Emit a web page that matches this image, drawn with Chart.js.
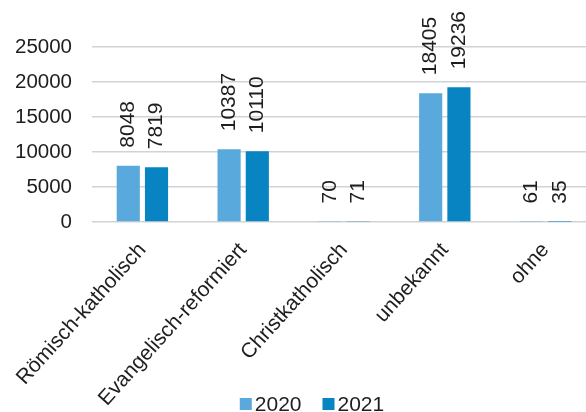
<!DOCTYPE html>
<html>
<head>
<meta charset="utf-8">
<script src="https://cdn.jsdelivr.net/npm/chart.js@4"></script>
<style>
  html, body { margin: 0; padding: 0; background: #fff; overflow: hidden; }
  #chart { display: block; }
</style>
</head>
<body>
<canvas id="chart" width="598" height="412"></canvas>
<script>
const ctx = document.getElementById('chart');

const categories = ['Römisch-katholisch', 'Evangelisch-reformiert', 'Christkatholisch', 'unbekannt', 'ohne'];
const values2020 = [8048, 10387, 70, 18405, 61];
const values2021 = [7819, 10110, 71, 19236, 35];
const yTicks = [0, 5000, 10000, 15000, 20000, 25000];

const FONT = '"Liberation Sans", Arial, sans-serif';

// values written vertically above each bar
const barLabels = {
    id: 'barLabels',
    afterDatasetsDraw(chart) {
        const c = chart.ctx;
        c.save();
        c.font = '21px ' + FONT;
        c.fillStyle = '#1e1e1e';
        c.textAlign = 'left';
        c.textBaseline = 'middle';
        chart.data.datasets.forEach((ds, i) => {
            chart.getDatasetMeta(i).data.forEach((bar, j) => {
                c.save();
                c.translate(bar.x, bar.y - 18);
                c.rotate(-Math.PI / 2);
                c.fillText(String(ds.data[j]), 0, 0);
                c.restore();
            });
        });
        c.restore();
    }
};

// small legend at the bottom, sitting level with the lowest axis label
const bottomLegend = {
    id: 'bottomLegend',
    afterDraw(chart) {
        const c = chart.ctx;
        const box = 12, gap = 3, itemGap = 21;
        c.save();
        c.font = '21px ' + FONT;
        c.textBaseline = 'middle';
        c.textAlign = 'left';
        const items = chart.data.datasets.map(ds => ({ text: ds.label, color: ds.backgroundColor, w: c.measureText(ds.label).width }));
        const total = items.reduce((s, it) => s + box + gap + it.w, 0) + itemGap * (items.length - 1);
        let x = chart.width / 2 + 13 - total / 2;
        const y = 404;
        items.forEach(it => {
            c.fillStyle = it.color;
            c.fillRect(x, y - box / 2, box, box);
            c.fillStyle = '#1e1e1e';
            c.fillText(it.text, x + box + gap, y + 1);
            x += box + gap + it.w + itemGap;
        });
        c.restore();
    }
};

const data = {
    labels: categories,
    datasets: [{
        label: '2020',
        data: values2020,
        backgroundColor: '#5aa9dd'
    }, {
        label: '2021',
        data: values2021,
        backgroundColor: '#0884c2'
    }]
};

const config = {
    type: 'bar',
    data,
    options: {
        responsive: false,
        animation: false,
        datasets: {
            bar: { categoryPercentage: 0.56, barPercentage: 0.82 }
        },
        layout: { padding: { top: 47, right: 2, left: 14, bottom: 0 } },
        plugins: {
            tooltip: { enabled: false },
            legend: { display: false }
        },
        scales: {
            x: {
                grid: { display: false },
                border: { display: false },
                afterFit(axis) { axis.height = 190; },
                ticks: {
                    minRotation: 48,
                    maxRotation: 48,
                    padding: 8,
                    color: '#1e1e1e',
                    font: { size: 21, family: FONT }
                }
            },
            y: {
                min: 0,
                max: 25000,
                afterBuildTicks(axis) {
                    axis.ticks = yTicks.map(v => ({ value: v }));
                },
                afterFit(axis) { axis.width = 78; },
                grid: { color: '#cfd3d6', lineWidth: 1.5, drawTicks: false },
                border: { display: false },
                ticks: {
                    padding: 20,
                    color: '#1e1e1e',
                    callback: v => String(v),
                    font: { size: 20.5, family: FONT }
                }
            }
        }
    },
    plugins: [barLabels, bottomLegend]
};

new Chart(ctx, config);
</script>
</body>
</html>
